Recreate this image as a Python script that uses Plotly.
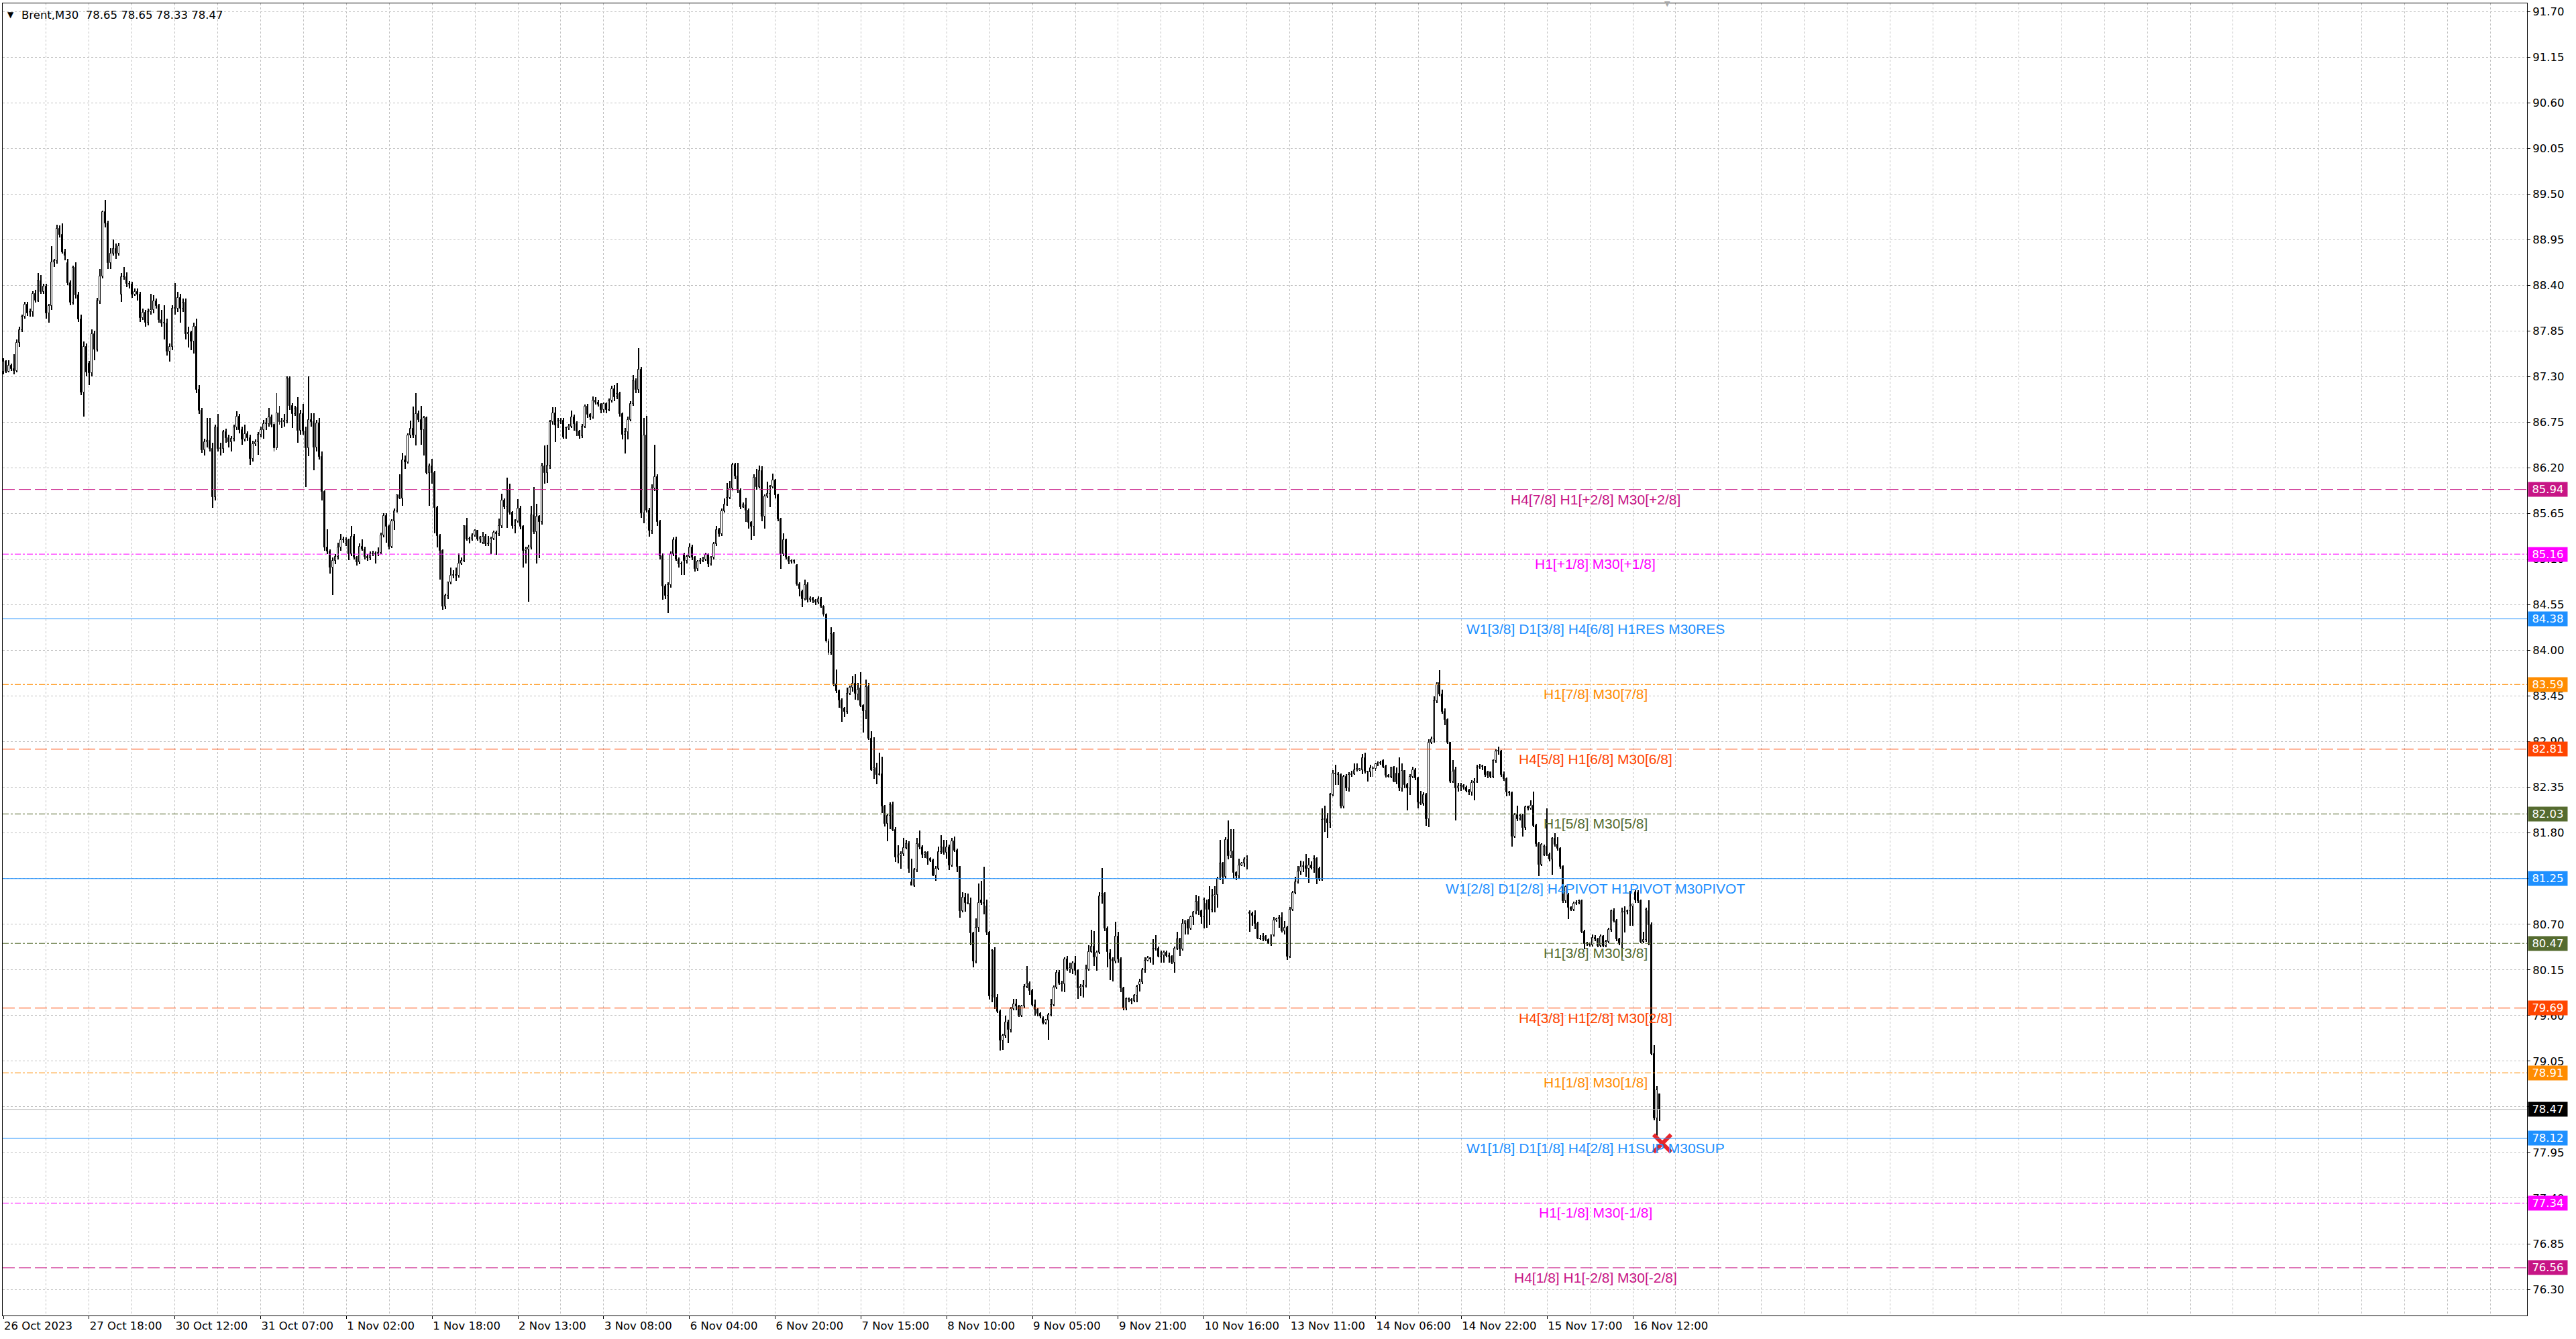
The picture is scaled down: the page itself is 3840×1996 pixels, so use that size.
import plotly.graph_objects as go

# ---------------- data (Brent, M30 candles) ----------------
OPEN = [
87.36, 87.48, 87.36, 87.43, 87.39, 87.37, 87.71, 87.86, 88.02, 88.17,
88.06, 88.08, 88.30, 88.22, 88.45, 88.32, 88.39, 88.06, 88.15, 88.68,
88.69, 89.08, 89.01, 88.80, 88.67, 88.43, 88.19, 88.61, 88.28, 87.99,
87.11, 87.66, 87.46, 87.34, 87.81, 87.63, 88.21, 88.51, 89.28, 89.15,
88.67, 88.78, 88.84, 88.78, 88.29, 88.50, 88.50, 88.42, 88.41, 88.29,
88.32, 88.29, 88.01, 88.07, 87.95, 88.08, 88.10, 88.21, 88.15, 87.98,
87.94, 87.94, 87.60, 87.66, 88.12, 88.12, 88.25, 88.12, 88.19, 87.81,
87.83, 87.72, 87.90, 87.14, 86.89, 86.41, 86.51, 86.53, 86.43, 85.85,
86.69, 86.43, 86.43, 86.63, 86.56, 86.51, 86.55, 86.69, 86.82, 86.66,
86.54, 86.61, 86.56, 86.31, 86.49, 86.51, 86.60, 86.66, 86.73, 86.73,
86.81, 86.72, 86.44, 86.86, 86.75, 86.75, 86.77, 87.28, 86.95, 86.85,
86.92, 86.65, 86.85, 86.64, 86.44, 86.78, 86.75, 86.45, 86.74, 86.33,
85.91, 85.24, 85.19, 85.00, 85.08, 85.13, 85.24, 85.33, 85.28, 85.33,
85.16, 85.37, 85.12, 85.06, 85.25, 85.22, 85.13, 85.11, 85.16, 85.17,
85.16, 85.18, 85.39, 85.62, 85.49, 85.25, 85.56, 85.68, 85.87, 85.83,
86.29, 86.27, 86.59, 86.67, 86.59, 86.85, 86.78, 86.66, 86.80, 86.14,
86.22, 86.14, 85.72, 85.38, 85.20, 84.53, 84.66, 84.82, 84.90, 84.91,
84.90, 85.05, 85.08, 85.50, 85.34, 85.34, 85.39, 85.44, 85.34, 85.30,
85.37, 85.28, 85.28, 85.35, 85.42, 85.40, 85.50, 85.81, 85.73, 85.93,
85.66, 85.50, 85.56, 85.71, 85.49, 85.20, 85.22, 85.24, 85.63, 85.43,
85.61, 85.55, 86.22, 86.14, 86.23, 86.75, 86.86, 86.71, 86.76, 86.77,
86.57, 86.68, 86.70, 86.81, 86.73, 86.64, 86.58, 86.70, 86.94, 86.84,
86.81, 87.01, 86.99, 86.96, 86.90, 86.97, 86.90, 87.01, 87.15, 87.05,
87.09, 86.85, 86.60, 86.63, 86.78, 86.97, 87.25, 87.14, 87.38, 85.65,
86.59, 85.69, 85.44, 85.95, 86.09, 85.55, 85.14, 84.77, 84.66, 84.79,
85.16, 85.33, 85.10, 85.04, 85.15, 85.08, 85.13, 85.24, 85.12, 84.98,
85.07, 85.08, 85.10, 85.15, 85.04, 85.12, 85.28, 85.45, 85.40, 85.68,
85.76, 85.84, 85.95, 86.24, 86.10, 85.93, 85.73, 85.75, 85.69, 85.54,
85.49, 86.08, 85.97, 86.16, 85.61, 85.86, 85.89, 85.97, 86.05, 85.87,
85.58, 85.16, 85.33, 85.12, 85.07, 85.08, 85.02, 84.80, 84.71, 84.62,
84.79, 84.61, 84.63, 84.60, 84.58, 84.62, 84.53, 84.43, 84.11, 83.97,
84.20, 83.59, 83.51, 83.40, 83.30, 83.26, 83.48, 83.55, 83.60, 83.47,
83.54, 83.33, 83.27, 83.56, 82.94, 82.56, 82.58, 82.50, 82.51, 82.12,
81.91, 82.01, 82.14, 81.84, 81.51, 81.53, 81.55, 81.62, 81.67, 81.21,
81.17, 81.35, 81.67, 81.63, 81.54, 81.56, 81.49, 81.47, 81.29, 81.37,
81.57, 81.63, 81.56, 81.63, 81.41, 81.70, 81.59, 81.39, 80.86, 81.02,
80.96, 80.95, 80.59, 80.25, 80.66, 80.99, 80.96, 80.92, 80.60, 79.83,
80.38, 79.82, 79.65, 79.30, 79.36, 79.52, 79.43, 79.68, 79.74, 79.71,
79.60, 79.71, 79.95, 79.99, 79.90, 79.73, 79.67, 79.62, 79.57, 79.51,
79.54, 79.61, 79.73, 79.94, 80.12, 79.99, 79.98, 80.28, 80.16, 80.16,
80.23, 80.14, 79.93, 79.95, 79.96, 80.16, 80.37, 80.43, 80.30, 80.36,
81.04, 81.07, 80.65, 80.35, 80.28, 80.25, 80.55, 80.28, 79.93, 79.69,
79.80, 79.79, 79.78, 79.84, 79.97, 80.00, 80.15, 80.26, 80.29, 80.28,
80.40, 80.41, 80.31, 80.33, 80.36, 80.32, 80.31, 80.24, 80.41, 80.52,
80.40, 80.71, 80.74, 80.65, 80.79, 80.84, 80.97, 80.86, 80.79, 80.95,
81.00, 80.88, 81.04, 81.05, 81.25, 81.43, 81.27, 81.72, 81.52, 81.58,
81.32, 81.28, 81.41, 81.43, 81.48, 80.84, 80.83, 80.80, 80.71, 80.53,
80.52, 80.55, 80.51, 80.46, 80.57, 80.75, 80.76, 80.78, 80.62, 80.66,
80.31, 80.88, 81.08, 81.21, 81.34, 81.39, 81.40, 81.37, 81.41, 81.38,
81.49, 81.37, 81.24, 81.96, 81.97, 81.92, 82.26, 82.52, 82.51, 82.50,
82.12, 82.48, 82.34, 82.50, 82.51, 82.56, 82.56, 82.56, 82.70, 82.54,
82.53, 82.58, 82.57, 82.63, 82.64, 82.67, 82.60, 82.49, 82.48, 82.59,
82.52, 82.52, 82.34, 82.55, 82.38, 82.34, 82.48, 82.56, 82.46, 82.17,
82.15, 82.26, 81.97, 82.89, 82.93, 83.39, 83.61, 83.47, 83.26, 83.16,
82.89, 82.42, 82.56, 82.34, 82.36, 82.37, 82.35, 82.31, 82.29, 82.40,
82.42, 82.59, 82.60, 82.60, 82.53, 82.53, 82.48, 82.67, 82.78, 82.78,
82.50, 82.45, 82.29, 82.28, 81.76, 82.02, 81.97, 82.01, 81.86, 82.11,
82.10, 82.13, 81.89, 81.67, 81.42, 81.54, 81.64, 81.54, 81.48, 81.73,
81.66, 81.61, 81.39, 80.98, 81.05, 80.90, 80.88, 80.95, 80.96, 80.98,
80.61, 80.46, 80.46, 80.45, 80.54, 80.52, 80.44, 80.55, 80.44, 80.49,
80.63, 80.86, 80.74, 80.52, 80.47, 80.84, 80.85, 80.86, 80.92, 81.09,
81.08, 80.98, 80.49, 80.51, 80.86, 80.69, 79.14, 78.36, 78.65,
]

HIGH = [
87.52, 87.50, 87.50, 87.46, 87.57, 87.75, 87.90, 88.05, 88.20, 88.20,
88.12, 88.33, 88.35, 88.55, 88.52, 88.42, 88.42, 88.18, 88.87, 88.72,
89.13, 89.12, 89.15, 88.84, 88.72, 88.46, 88.64, 88.68, 88.32, 88.05,
87.72, 87.70, 87.49, 87.87, 87.85, 88.25, 88.60, 89.30, 89.43, 89.18,
88.85, 88.95, 88.90, 88.91, 88.55, 88.62, 88.56, 88.45, 88.44, 88.36,
88.36, 88.32, 88.12, 88.10, 88.12, 88.30, 88.28, 88.24, 88.18, 88.10,
88.16, 88.00, 87.70, 88.16, 88.43, 88.32, 88.30, 88.24, 88.24, 87.90,
87.85, 87.95, 88.00, 87.20, 86.92, 86.55, 86.80, 86.80, 86.50, 86.72,
86.85, 86.50, 86.66, 86.67, 86.60, 86.58, 86.72, 86.88, 86.85, 86.70,
86.72, 86.64, 86.60, 86.53, 86.54, 86.63, 86.70, 86.78, 86.80, 86.92,
86.84, 86.75, 87.10, 86.95, 86.80, 86.85, 87.30, 87.30, 86.98, 86.95,
87.05, 86.90, 86.97, 86.70, 87.30, 86.86, 86.86, 86.78, 86.80, 86.40,
85.93, 85.46, 85.22, 85.12, 85.16, 85.30, 85.40, 85.37, 85.36, 85.35,
85.50, 85.40, 85.14, 85.29, 85.34, 85.25, 85.16, 85.19, 85.20, 85.19,
85.24, 85.42, 85.65, 85.65, 85.52, 85.58, 85.71, 85.88, 86.12, 86.38,
86.35, 86.62, 86.77, 86.94, 87.10, 86.89, 86.95, 86.83, 86.82, 86.25,
86.31, 86.16, 85.74, 85.40, 85.22, 84.68, 84.83, 85.00, 84.97, 85.00,
85.17, 85.12, 85.51, 85.60, 85.37, 85.41, 85.46, 85.45, 85.38, 85.43,
85.40, 85.38, 85.37, 85.44, 85.44, 85.59, 85.89, 85.83, 86.08, 86.01,
85.68, 85.58, 85.82, 85.74, 85.51, 85.25, 85.27, 85.74, 85.97, 85.77,
85.63, 86.26, 86.47, 86.48, 86.78, 86.93, 86.93, 86.80, 86.80, 86.80,
86.70, 86.73, 86.89, 86.84, 86.76, 86.66, 86.73, 86.96, 86.97, 86.86,
87.06, 87.05, 87.02, 86.98, 86.99, 86.99, 87.04, 87.19, 87.20, 87.22,
87.12, 86.87, 86.68, 86.82, 87.00, 87.32, 87.28, 87.64, 87.42, 86.80,
86.83, 85.72, 86.00, 86.48, 86.12, 85.57, 85.17, 84.80, 84.82, 85.19,
85.36, 85.37, 85.12, 85.07, 85.18, 85.15, 85.29, 85.27, 85.14, 85.09,
85.11, 85.13, 85.18, 85.17, 85.14, 85.31, 85.50, 85.48, 85.71, 85.83,
86.02, 86.04, 86.26, 86.26, 86.26, 85.95, 85.78, 85.84, 85.71, 85.56,
86.12, 86.19, 86.23, 86.22, 85.88, 86.03, 85.99, 86.13, 86.07, 85.89,
85.60, 85.41, 85.35, 85.14, 85.10, 85.10, 85.04, 84.82, 84.73, 84.85,
84.82, 84.65, 84.64, 84.62, 84.65, 84.64, 84.55, 84.45, 84.14, 84.28,
84.22, 83.77, 83.53, 83.42, 83.32, 83.55, 83.58, 83.69, 83.71, 83.61,
83.74, 83.35, 83.65, 83.61, 83.03, 82.95, 82.65, 82.77, 82.72, 82.14,
82.03, 82.17, 82.18, 81.87, 81.65, 81.58, 81.74, 81.72, 81.70, 81.49,
81.38, 81.74, 81.83, 81.65, 81.58, 81.58, 81.51, 81.49, 81.40, 81.64,
81.77, 81.72, 81.72, 81.66, 81.74, 81.76, 81.61, 81.40, 81.09, 81.08,
81.07, 81.02, 80.61, 80.77, 81.19, 81.22, 81.39, 81.00, 80.62, 80.40,
80.42, 79.86, 79.67, 79.38, 79.60, 79.55, 79.70, 79.80, 79.80, 79.73,
79.73, 79.98, 80.20, 80.01, 79.92, 79.79, 79.69, 79.64, 79.59, 79.56,
79.63, 79.80, 79.96, 80.15, 80.15, 80.02, 80.30, 80.32, 80.24, 80.25,
80.32, 80.16, 79.98, 80.03, 80.21, 80.45, 80.63, 80.62, 80.38, 81.09,
81.38, 81.09, 80.67, 80.40, 80.30, 80.73, 80.61, 80.30, 79.95, 79.82,
79.82, 79.81, 79.86, 79.97, 80.04, 80.17, 80.30, 80.32, 80.30, 80.52,
80.57, 80.43, 80.38, 80.38, 80.38, 80.36, 80.33, 80.43, 80.61, 80.54,
80.76, 80.75, 80.76, 80.80, 80.86, 81.05, 81.04, 80.88, 81.02, 81.00,
81.16, 81.13, 81.16, 81.27, 81.72, 81.45, 81.75, 81.95, 81.85, 81.85,
81.34, 81.49, 81.45, 81.51, 81.53, 80.87, 80.85, 80.87, 80.73, 80.57,
80.59, 80.57, 80.53, 80.58, 80.79, 80.78, 80.81, 80.84, 80.74, 80.68,
80.91, 81.10, 81.27, 81.40, 81.47, 81.46, 81.55, 81.50, 81.46, 81.53,
81.51, 81.39, 82.10, 82.13, 82.04, 82.28, 82.56, 82.62, 82.53, 82.52,
82.50, 82.51, 82.53, 82.55, 82.64, 82.64, 82.57, 82.75, 82.77, 82.55,
82.62, 82.61, 82.65, 82.66, 82.67, 82.69, 82.62, 82.51, 82.60, 82.61,
82.59, 82.71, 82.64, 82.56, 82.40, 82.51, 82.60, 82.58, 82.48, 82.31,
82.29, 82.28, 82.93, 82.96, 83.45, 83.62, 83.76, 83.53, 83.30, 83.18,
82.90, 82.68, 82.60, 82.40, 82.40, 82.39, 82.37, 82.33, 82.44, 82.46,
82.62, 82.63, 82.62, 82.61, 82.55, 82.54, 82.69, 82.81, 82.84, 82.80,
82.54, 82.47, 82.31, 82.30, 82.04, 82.13, 82.03, 82.03, 82.13, 82.13,
82.19, 82.30, 81.91, 81.69, 81.68, 81.66, 82.10, 81.56, 81.75, 81.80,
81.75, 81.63, 81.41, 81.17, 81.08, 80.92, 80.97, 80.99, 81.00, 81.00,
80.63, 80.49, 80.48, 80.58, 80.57, 80.54, 80.58, 80.57, 80.51, 80.66,
80.88, 80.89, 80.76, 80.54, 80.90, 80.92, 80.88, 81.10, 80.95, 81.11,
81.11, 81.00, 80.61, 80.90, 80.99, 80.72, 79.24, 78.75, 78.65,
]

LOW = [
87.33, 87.34, 87.35, 87.37, 87.33, 87.35, 87.66, 87.84, 88.00, 88.03,
88.02, 88.02, 88.19, 88.20, 88.30, 88.30, 88.00, 87.95, 88.10, 88.62,
88.66, 88.98, 88.78, 88.70, 88.40, 88.16, 88.17, 88.24, 87.96, 87.08,
86.82, 87.30, 87.20, 87.30, 87.50, 87.60, 88.18, 88.48, 89.10, 88.60,
88.60, 88.76, 88.72, 88.76, 88.20, 88.47, 88.38, 88.36, 88.25, 88.27,
88.22, 87.96, 87.98, 87.90, 87.92, 88.05, 88.06, 88.12, 87.95, 87.90,
87.75, 87.55, 87.48, 87.62, 88.05, 88.08, 87.95, 88.08, 87.75, 87.65,
87.62, 87.58, 87.10, 86.85, 86.38, 86.35, 86.45, 86.40, 85.72, 85.81,
86.40, 86.35, 86.38, 86.50, 86.45, 86.40, 86.52, 86.66, 86.62, 86.48,
86.52, 86.53, 86.24, 86.28, 86.46, 86.36, 86.57, 86.55, 86.66, 86.70,
86.69, 86.40, 86.41, 86.72, 86.68, 86.70, 86.74, 86.90, 86.68, 86.83,
86.50, 86.60, 86.60, 85.97, 86.34, 86.70, 86.17, 86.40, 86.30, 85.81,
85.20, 85.16, 84.93, 84.67, 85.04, 85.10, 85.20, 85.30, 85.26, 85.09,
85.14, 85.10, 85.02, 85.04, 85.20, 85.10, 85.08, 85.09, 85.14, 85.05,
85.14, 85.16, 85.36, 85.30, 85.22, 85.23, 85.45, 85.66, 85.82, 85.74,
86.19, 86.25, 86.56, 86.56, 86.47, 86.75, 86.48, 86.35, 86.12, 85.74,
86.01, 85.41, 85.24, 84.85, 84.49, 84.50, 84.62, 84.80, 84.87, 84.84,
84.88, 85.03, 85.06, 85.32, 85.29, 85.32, 85.37, 85.32, 85.30, 85.28,
85.26, 85.26, 85.16, 85.33, 85.15, 85.38, 85.48, 85.70, 85.48, 85.64,
85.47, 85.41, 85.54, 85.46, 85.00, 85.05, 84.59, 85.22, 85.40, 85.05,
85.11, 85.52, 86.01, 86.02, 86.19, 86.72, 86.51, 86.68, 86.73, 86.55,
86.55, 86.66, 86.68, 86.65, 86.58, 86.55, 86.56, 86.68, 86.80, 86.78,
86.79, 86.96, 86.94, 86.86, 86.87, 86.86, 86.88, 86.99, 87.00, 87.03,
86.82, 86.54, 86.37, 86.54, 86.76, 86.95, 87.10, 87.10, 85.60, 85.53,
85.66, 85.37, 85.40, 85.92, 85.50, 85.10, 84.61, 84.62, 84.45, 84.76,
85.14, 85.08, 85.00, 84.91, 84.91, 85.05, 85.11, 85.09, 84.95, 84.96,
85.04, 85.06, 85.08, 85.01, 85.02, 85.10, 85.26, 85.37, 85.38, 85.66,
85.74, 85.82, 85.93, 86.07, 85.90, 85.70, 85.72, 85.55, 85.47, 85.33,
85.38, 85.94, 85.95, 85.56, 85.47, 85.84, 85.73, 85.95, 85.83, 85.56,
84.98, 85.14, 85.10, 85.04, 85.05, 85.05, 84.78, 84.65, 84.52, 84.60,
84.58, 84.59, 84.57, 84.55, 84.56, 84.51, 84.41, 84.09, 83.95, 83.95,
83.57, 83.49, 83.31, 83.14, 83.20, 83.24, 83.46, 83.50, 83.41, 83.40,
83.32, 83.01, 83.17, 82.92, 82.55, 82.45, 82.39, 82.49, 82.04, 81.88,
81.70, 81.85, 81.82, 81.45, 81.43, 81.37, 81.52, 81.60, 81.32, 81.17,
81.15, 81.33, 81.60, 81.50, 81.50, 81.42, 81.45, 81.28, 81.22, 81.35,
81.55, 81.54, 81.49, 81.35, 81.39, 81.57, 81.33, 80.78, 80.84, 80.85,
80.94, 80.45, 80.18, 80.23, 80.61, 80.93, 80.82, 80.57, 79.79, 79.76,
79.68, 79.63, 79.18, 79.19, 79.33, 79.27, 79.40, 79.66, 79.66, 79.58,
79.58, 79.69, 79.93, 79.85, 79.71, 79.60, 79.59, 79.57, 79.49, 79.49,
79.31, 79.59, 79.71, 79.92, 79.97, 79.89, 79.88, 80.14, 80.12, 80.10,
80.08, 79.80, 79.83, 79.82, 79.94, 80.14, 80.36, 80.20, 80.14, 80.34,
80.95, 80.62, 80.18, 80.03, 80.01, 80.23, 80.24, 79.88, 79.66, 79.66,
79.76, 79.74, 79.76, 79.76, 79.89, 79.98, 80.12, 80.25, 80.24, 80.21,
80.38, 80.30, 80.24, 80.24, 80.30, 80.24, 80.22, 80.12, 80.39, 80.32,
80.38, 80.58, 80.58, 80.63, 80.69, 80.82, 80.81, 80.71, 80.65, 80.66,
80.69, 80.84, 80.84, 80.90, 81.23, 81.18, 81.25, 81.48, 81.50, 81.25,
81.23, 81.25, 81.40, 81.39, 81.36, 80.61, 80.68, 80.64, 80.52, 80.51,
80.50, 80.50, 80.46, 80.44, 80.55, 80.73, 80.66, 80.60, 80.58, 80.27,
80.29, 80.86, 81.06, 81.19, 81.30, 81.33, 81.27, 81.20, 81.36, 81.32,
81.18, 81.22, 81.22, 81.81, 81.74, 81.86, 82.24, 82.38, 82.38, 82.10,
82.10, 82.31, 82.30, 82.48, 82.50, 82.54, 82.55, 82.51, 82.52, 82.42,
82.48, 82.48, 82.55, 82.61, 82.62, 82.58, 82.47, 82.47, 82.46, 82.41,
82.39, 82.31, 82.30, 82.34, 82.07, 82.26, 82.46, 82.44, 82.10, 82.14,
82.13, 81.89, 81.87, 82.87, 82.89, 83.37, 83.45, 83.24, 83.10, 82.87,
82.40, 82.40, 81.95, 82.30, 82.31, 82.32, 82.29, 82.26, 82.25, 82.19,
82.40, 82.57, 82.56, 82.48, 82.46, 82.46, 82.46, 82.65, 82.74, 82.48,
82.43, 82.24, 82.25, 81.64, 81.74, 81.94, 81.95, 81.76, 81.84, 82.07,
82.08, 81.87, 81.64, 81.28, 81.40, 81.52, 81.52, 81.46, 81.30, 81.64,
81.59, 81.37, 80.96, 80.96, 80.76, 80.86, 80.86, 80.93, 80.94, 80.59,
80.40, 80.44, 80.43, 80.43, 80.50, 80.42, 80.42, 80.42, 80.42, 80.47,
80.61, 80.72, 80.50, 80.45, 80.31, 80.60, 80.82, 80.68, 80.68, 80.96,
80.96, 80.47, 80.47, 80.49, 80.45, 79.12, 78.34, 78.15, 78.33,
]

CLOSE = [
87.48, 87.36, 87.43, 87.39, 87.37, 87.71, 87.86, 88.02, 88.17, 88.06,
88.08, 88.30, 88.22, 88.45, 88.32, 88.39, 88.06, 88.15, 88.68, 88.69,
89.08, 89.01, 88.80, 88.76, 88.43, 88.19, 88.61, 88.28, 87.99, 87.11,
87.66, 87.35, 87.34, 87.81, 87.63, 88.21, 88.51, 89.28, 89.15, 88.67,
88.78, 88.84, 88.78, 88.87, 88.50, 88.50, 88.42, 88.41, 88.29, 88.32,
88.29, 88.01, 88.07, 87.95, 88.08, 88.10, 88.21, 88.15, 87.98, 87.94,
87.94, 87.60, 87.66, 88.12, 88.12, 88.25, 88.12, 88.19, 87.81, 87.83,
87.72, 87.90, 87.14, 86.89, 86.41, 86.51, 86.53, 86.43, 85.85, 86.69,
86.43, 86.43, 86.63, 86.56, 86.51, 86.55, 86.69, 86.82, 86.66, 86.54,
86.61, 86.56, 86.31, 86.49, 86.51, 86.60, 86.66, 86.73, 86.73, 86.81,
86.72, 86.44, 86.86, 86.75, 86.75, 86.77, 87.28, 86.95, 86.85, 86.91,
86.65, 86.85, 86.64, 86.44, 86.78, 86.75, 86.45, 86.74, 86.33, 85.91,
85.24, 85.19, 85.00, 85.08, 85.13, 85.24, 85.33, 85.34, 85.33, 85.16,
85.37, 85.12, 85.06, 85.25, 85.22, 85.13, 85.11, 85.16, 85.17, 85.16,
85.18, 85.39, 85.62, 85.49, 85.25, 85.56, 85.68, 85.87, 85.83, 86.29,
86.27, 86.59, 86.67, 86.59, 86.85, 86.78, 86.66, 86.80, 86.14, 86.22,
86.14, 85.72, 85.38, 85.20, 84.53, 84.66, 84.82, 84.90, 84.91, 84.90,
85.05, 85.08, 85.50, 85.34, 85.34, 85.39, 85.44, 85.34, 85.36, 85.37,
85.28, 85.28, 85.35, 85.42, 85.40, 85.50, 85.81, 85.73, 85.93, 85.66,
85.50, 85.56, 85.71, 85.49, 85.20, 85.22, 85.24, 85.63, 85.43, 85.61,
85.55, 86.22, 86.14, 86.23, 86.75, 86.86, 86.71, 86.76, 86.77, 86.57,
86.68, 86.70, 86.81, 86.73, 86.64, 86.58, 86.70, 86.94, 86.84, 86.81,
87.01, 86.99, 86.96, 86.90, 86.97, 86.90, 87.01, 87.15, 87.05, 87.09,
86.85, 86.60, 86.63, 86.78, 86.97, 87.25, 87.14, 87.38, 85.65, 86.59,
85.69, 85.44, 85.95, 86.09, 85.55, 85.14, 84.77, 84.66, 84.79, 85.16,
85.33, 85.10, 85.04, 85.04, 85.08, 85.13, 85.24, 85.12, 84.98, 85.07,
85.08, 85.10, 85.15, 85.04, 85.12, 85.28, 85.45, 85.40, 85.68, 85.76,
85.84, 85.95, 86.24, 86.10, 85.93, 85.73, 85.75, 85.69, 85.54, 85.49,
86.08, 85.97, 86.16, 85.61, 85.86, 85.89, 85.97, 86.05, 85.87, 85.58,
85.16, 85.33, 85.12, 85.07, 85.08, 85.07, 84.80, 84.74, 84.62, 84.79,
84.61, 84.63, 84.60, 84.58, 84.62, 84.53, 84.43, 84.11, 83.97, 84.20,
83.59, 83.51, 83.40, 83.30, 83.26, 83.48, 83.55, 83.60, 83.48, 83.53,
83.33, 83.27, 83.56, 82.94, 82.56, 82.58, 82.50, 82.51, 82.12, 81.91,
82.01, 82.14, 81.84, 81.51, 81.53, 81.55, 81.62, 81.67, 81.37, 81.17,
81.35, 81.67, 81.63, 81.54, 81.56, 81.49, 81.47, 81.29, 81.37, 81.57,
81.63, 81.56, 81.63, 81.41, 81.70, 81.59, 81.39, 80.86, 81.02, 80.96,
80.95, 80.59, 80.25, 80.66, 80.96, 80.96, 80.95, 80.60, 79.83, 80.38,
79.82, 79.65, 79.30, 79.36, 79.52, 79.43, 79.68, 79.74, 79.71, 79.60,
79.71, 79.95, 79.99, 79.90, 79.73, 79.67, 79.62, 79.59, 79.51, 79.54,
79.61, 79.73, 79.94, 80.12, 79.99, 79.98, 80.28, 80.16, 80.16, 80.23,
80.14, 79.93, 79.95, 79.96, 80.16, 80.37, 80.43, 80.30, 80.36, 81.04,
81.07, 80.65, 80.37, 80.28, 80.25, 80.55, 80.28, 79.93, 79.69, 79.80,
79.79, 79.78, 79.84, 79.95, 80.00, 80.15, 80.26, 80.29, 80.28, 80.40,
80.41, 80.31, 80.35, 80.36, 80.32, 80.31, 80.24, 80.41, 80.52, 80.40,
80.71, 80.74, 80.65, 80.79, 80.84, 80.97, 80.86, 80.79, 81.00, 80.88,
80.88, 81.04, 81.05, 81.25, 81.43, 81.27, 81.72, 81.52, 81.58, 81.32,
81.28, 81.41, 81.43, 81.48, 81.51, 80.83, 80.80, 80.71, 80.53, 80.52,
80.55, 80.51, 80.46, 80.57, 80.75, 80.76, 80.78, 80.62, 80.66, 80.31,
80.88, 81.08, 81.21, 81.34, 81.39, 81.40, 81.37, 81.41, 81.38, 81.49,
81.25, 81.24, 81.96, 81.97, 81.92, 82.26, 82.52, 82.51, 82.50, 82.12,
82.48, 82.34, 82.50, 82.51, 82.56, 82.56, 82.56, 82.70, 82.54, 82.53,
82.58, 82.57, 82.63, 82.64, 82.65, 82.60, 82.49, 82.48, 82.59, 82.42,
82.41, 82.34, 82.55, 82.38, 82.34, 82.48, 82.56, 82.46, 82.17, 82.15,
82.26, 81.97, 82.89, 82.93, 83.39, 83.59, 83.47, 83.26, 83.16, 82.89,
82.42, 82.54, 82.34, 82.36, 82.37, 82.35, 82.31, 82.29, 82.40, 82.42,
82.59, 82.60, 82.60, 82.50, 82.49, 82.48, 82.67, 82.78, 82.78, 82.50,
82.45, 82.29, 82.28, 81.76, 82.02, 81.97, 82.01, 81.86, 82.11, 82.10,
82.13, 81.89, 81.67, 81.42, 81.66, 81.64, 81.54, 81.48, 81.73, 81.66,
81.61, 81.39, 80.98, 81.15, 80.90, 80.88, 80.95, 80.96, 80.98, 80.61,
80.46, 80.46, 80.45, 80.54, 80.52, 80.44, 80.55, 80.44, 80.49, 80.63,
80.86, 80.74, 80.52, 80.47, 80.84, 80.85, 80.86, 80.92, 80.94, 80.99,
80.98, 80.49, 80.51, 80.88, 80.69, 79.14, 78.36, 78.70, 78.47,
]

SYMBOL = "Brent,M30"

# time-axis labels (one every 32 bars, starting at bar 0)
X_TICK_BARS = [0, 32, 64, 96, 128, 160, 192, 224, 256, 288,
               320, 352, 384, 416, 448, 480, 512, 544, 576, 608]
X_TICK_LABELS = ["26 Oct 2023", "27 Oct 18:00", "30 Oct 12:00", "31 Oct 07:00",
                 "1 Nov 02:00", "1 Nov 18:00", "2 Nov 13:00", "3 Nov 08:00",
                 "6 Nov 04:00", "6 Nov 20:00", "7 Nov 15:00", "8 Nov 10:00",
                 "9 Nov 05:00", "9 Nov 21:00", "10 Nov 16:00", "13 Nov 11:00",
                 "14 Nov 06:00", "14 Nov 22:00", "15 Nov 17:00", "16 Nov 12:00"]

# price-axis labels
Y_TICKS = [76.30, 76.85, 77.40, 77.95, 78.50, 79.05, 79.60, 80.15, 80.70, 81.25,
           81.80, 82.35, 82.90, 83.45, 84.00, 84.55, 85.10, 85.65, 86.20, 86.75,
           87.30, 87.85, 88.40, 88.95, 89.50, 90.05, 90.60, 91.15, 91.70]

# Murrey-math style levels
LEVELS = [85.94, 85.16, 84.38, 83.59, 82.81, 82.03, 81.25, 80.47, 79.69, 78.91,
          78.12, 77.34, 76.56]
LEVEL_TEXT = ["H4[7/8] H1[+2/8] M30[+2/8]",
              "H1[+1/8] M30[+1/8]",
              "W1[3/8] D1[3/8] H4[6/8] H1RES M30RES",
              "H1[7/8] M30[7/8]",
              "H4[5/8] H1[6/8] M30[6/8]",
              "H1[5/8] M30[5/8]",
              "W1[2/8] D1[2/8] H4PIVOT H1PIVOT M30PIVOT",
              "H1[3/8] M30[3/8]",
              "H4[3/8] H1[2/8] M30[2/8]",
              "H1[1/8] M30[1/8]",
              "W1[1/8] D1[1/8] H4[2/8] H1SUP M30SUP",
              "H1[-1/8] M30[-1/8]",
              "H4[1/8] H1[-2/8] M30[-2/8]"]

CURRENT_PRICE = 78.47
X_MARK_BAR = 619
X_MARK_PRICE = 78.06

# ---------------- styles ----------------
LEVEL_COLORS = ["#C71585", "#FF00FF", "#1E90FF", "#FF8C00", "#FF4500", "#556B2F",
                "#1E90FF", "#556B2F", "#FF4500", "#FF8C00", "#1E90FF", "#FF00FF",
                "#C71585"]
DASH_LONG = "18px,6px"
DASH_DOT = "9px,3px,3px,3px"
LEVEL_DASH = [DASH_LONG, DASH_DOT, "solid", DASH_DOT, DASH_LONG, DASH_DOT,
              "solid", DASH_DOT, DASH_LONG, DASH_DOT, "solid", DASH_DOT, DASH_LONG]
LABEL_BAR = 594
GRID = "#c0c0c0"
GRID_DASH = "3px,3px"
AX_FONT = dict(family="DejaVu Sans", size=16.5, color="black")
LBL_FONT = "Liberation Sans"

n = min(len(OPEN), len(HIGH), len(LOW), len(CLOSE))
xs = list(range(n))

fig = go.Figure()

# wicks (drawn first so the bodies cover them)
fig.add_trace(go.Bar(
    x=xs, base=[LOW[i] for i in xs], y=[HIGH[i] - LOW[i] for i in xs],
    width=0.25, marker=dict(color="black", line=dict(width=0)),
    hoverinfo="skip", showlegend=False))

# bodies
up = [i for i in xs if CLOSE[i] >= OPEN[i]]
dn = [i for i in xs if CLOSE[i] < OPEN[i]]
MIN_BODY = 0.01
fig.add_trace(go.Bar(
    x=up, base=[OPEN[i] for i in up],
    y=[max(CLOSE[i] - OPEN[i], MIN_BODY) for i in up],
    width=0.5, marker=dict(color="white", line=dict(color="black", width=1)),
    hoverinfo="skip", showlegend=False))
fig.add_trace(go.Bar(
    x=dn, base=[CLOSE[i] for i in dn],
    y=[max(OPEN[i] - CLOSE[i], MIN_BODY) for i in dn],
    width=0.5, marker=dict(color="black", line=dict(color="black", width=1)),
    hoverinfo="skip", showlegend=False))

# red cross marker
fig.add_trace(go.Scatter(
    x=[X_MARK_BAR], y=[X_MARK_PRICE], mode="markers",
    marker=dict(symbol="x-thin", size=26, color="#e8262a",
                line=dict(color="#e8262a", width=6)),
    hoverinfo="skip", showlegend=False, cliponaxis=False))

shapes = []
annotations = []

# current price line
shapes.append(dict(type="line", xref="x domain", x0=0, x1=1, yref="y",
                   y0=CURRENT_PRICE, y1=CURRENT_PRICE,
                   line=dict(color="#b8b8b8", width=1)))

for lvl, txt, col, dash in zip(LEVELS, LEVEL_TEXT, LEVEL_COLORS, LEVEL_DASH):
    shapes.append(dict(type="line", xref="x domain", x0=0, x1=1, yref="y",
                       y0=lvl, y1=lvl, line=dict(color=col, width=1, dash=dash)))
    annotations.append(dict(x=LABEL_BAR, xref="x", y=lvl, yref="y", text=txt,
                            showarrow=False, xanchor="center", yanchor="top",
                            yshift=-1, font=dict(family=LBL_FONT, size=21, color=col)))
    annotations.append(dict(x=1, xref="paper", y=lvl, yref="y", text=f"{lvl:.2f}",
                            showarrow=False, xanchor="left", yanchor="middle",
                            xshift=1, bgcolor=col, width=56, height=19, borderpad=1,
                            font=dict(family="DejaVu Sans", size=16.5, color="white")))

annotations.append(dict(x=1, xref="paper", y=CURRENT_PRICE, yref="y",
                        text=f"{CURRENT_PRICE:.2f}", showarrow=False,
                        xanchor="left", yanchor="middle", xshift=1, bgcolor="black",
                        width=56, height=19, borderpad=1,
                        font=dict(family="DejaVu Sans", size=16.5, color="white")))

# header
annotations.append(dict(x=0, xref="paper", y=1, yref="paper", text="\u25bc",
                        showarrow=False, xanchor="left", yanchor="middle",
                        xshift=5, yshift=-17, font=dict(family="DejaVu Sans", size=12, color="black")))
annotations.append(dict(x=0, xref="paper", y=1, yref="paper",
                        text=f"{SYMBOL}\u00a0\u00a0{OPEN[n-1]:.2f} {HIGH[n-1]:.2f} {LOW[n-1]:.2f} {CLOSE[n-1]:.2f}",
                        showarrow=False, xanchor="left", yanchor="middle",
                        xshift=26, yshift=-17, font=AX_FONT))
# chart-shift marker
annotations.append(dict(x=n + 2, xref="x", y=1, yref="paper", text="\u25bc",
                        showarrow=False, xanchor="center", yanchor="middle",
                        yshift=0, font=dict(family="DejaVu Sans", size=11, color="#a8a8a8")))

fig.update_layout(
    width=3840, height=1996,
    margin=dict(l=4, r=73, t=5, b=35),
    paper_bgcolor="white", plot_bgcolor="white",
    barmode="overlay", bargap=0, hovermode=False, showlegend=False,
    shapes=shapes, annotations=annotations,
    xaxis=dict(range=[-0.25, 941.65], tickmode="array", tickvals=X_TICK_BARS,
               ticktext=X_TICK_LABELS, ticklabelposition="outside right",
               ticks="outside", ticklen=4, tickwidth=1, tickcolor="black",
               tickfont=AX_FONT, showgrid=True, gridcolor=GRID, griddash=GRID_DASH,
               gridwidth=1,
               minor=dict(tickmode="linear", tick0=0, dtick=16, showgrid=True,
                          gridcolor=GRID, griddash=GRID_DASH, gridwidth=1, ticks=""),
               showline=True, linecolor="black", linewidth=1, mirror=True,
               zeroline=False, fixedrange=True),
    yaxis=dict(side="right", range=[75.985, 91.798], tickmode="array",
               tickvals=Y_TICKS, ticktext=[f"{v:.2f}" for v in Y_TICKS],
               ticks="outside", ticklen=4, tickwidth=1, tickcolor="black",
               tickfont=AX_FONT, showgrid=True, gridcolor=GRID, griddash=GRID_DASH,
               gridwidth=1, showline=True, linecolor="black", linewidth=1,
               mirror=True, zeroline=False, fixedrange=True),
)

fig.write_html("out.html", config={"displayModeBar": False, "staticPlot": False},
               post_script="document.body.style.margin='0';document.body.style.overflow='hidden';")
